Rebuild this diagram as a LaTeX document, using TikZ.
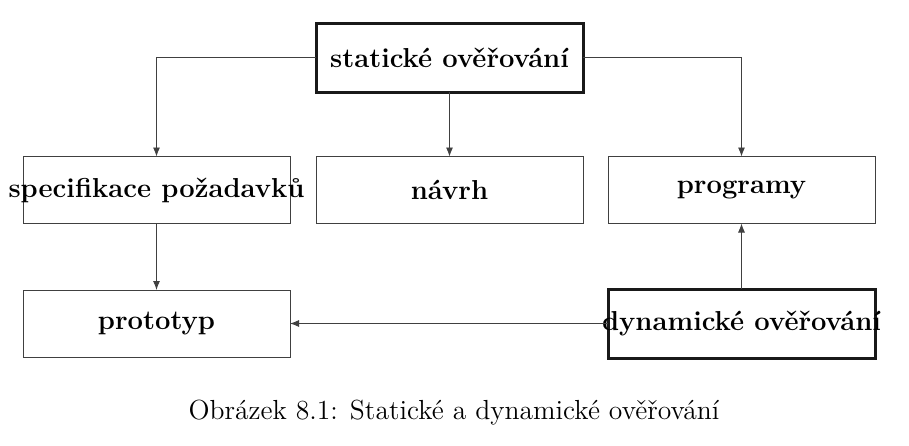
\documentclass[tikz,border=0pt]{standalone}
\usetikzlibrary{arrows.meta}
\begin{document}
\begin{tikzpicture}[x=0.5pt,y=-0.5pt,
  box/.style={draw=black!75, line width=0.45pt, minimum width=133.5pt, minimum height=33.5pt, inner sep=0pt, outer sep=0pt, font=\fontsize{13.7}{16}\selectfont\bfseries},
  thickbox/.style={box, draw=black!90, line width=1.5pt, minimum height=34.5pt},
  conn/.style={draw=black!75, line width=0.45pt, -{Latex[length=4.5pt,width=3.5pt]}}]
\useasboundingbox (0,0) rectangle (909,445);
\node[thickbox] (stat) at (449.5,57.5) {\makebox[0pt]{statické ověřování}};
\node[box] (spec) at (156.5,190) {\makebox[0pt]{specifikace požadavků}};
\node[box] (navrh) at (449.5,190) {\makebox[0pt]{návrh}};
\node[box] (prog) at (741.5,190) {\makebox[0pt]{programy}};
\node[box] (proto) at (156.5,323.5) {\makebox[0pt]{prototyp}};
\node[thickbox] (dyn) at (741.5,323.5) {\makebox[0pt]{dynamické ověřování}};
\node[font=\fontsize{13.8}{16}\selectfont] (cap) at (454,413) {Obrázek 8.1: Statické a dynamické ověřování};
\draw[conn] (stat.west) -| (spec.north);
\draw[conn] (stat.south) -- (navrh.north);
\draw[conn] (stat.east) -| (prog.north);
\draw[conn] (spec.south) -- (proto.north);
\draw[conn] (dyn.north) -- (prog.south);
\draw[conn] (dyn.west) -- (proto.east);
\end{tikzpicture}
\end{document}
